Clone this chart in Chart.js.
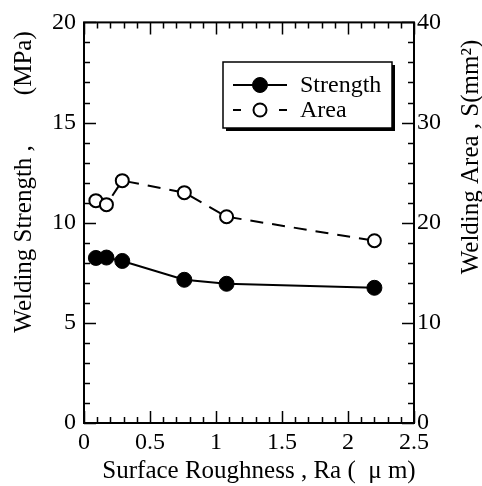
<!DOCTYPE html>
<html>
<head>
<meta charset="utf-8">
<script src="https://cdn.jsdelivr.net/npm/chart.js@4"></script>
<style>
  html, body { margin: 0; padding: 0; background: #fff; }
  #wrap { width: 482px; height: 486px; }
</style>
</head>
<body>
<div id="wrap"><canvas id="chart" width="482" height="486"></canvas></div>
<script>
// values
const roughness = [0.09, 0.17, 0.29, 0.76, 1.08, 2.2];
const strength = [8.24, 8.26, 8.09, 7.15, 6.95, 6.75];
const area = [22.2, 21.8, 24.2, 23.0, 20.6, 18.2];

const xTicks = [0, 0.5, 1, 1.5, 2, 2.5];
const yTicks = [0, 5, 10, 15, 20];
const y2Ticks = [0, 10, 20, 30, 40];

const FONT = "'Liberation Serif', 'Times New Roman', serif";

const toPoints = (xs, ys) => xs.map((x, i) => ({ x, y: ys[i] }));

// inward tick marks + box frame
const framePlugin = {
  id: "frame",
  beforeDatasetsDraw(chart) {
    const { ctx, chartArea: a, scales } = chart;
    ctx.save();
    ctx.strokeStyle = "#000";
    ctx.lineWidth = 1.5;
    ctx.beginPath();
    for (let i = 0; i <= 25; i++) {
      const px = Math.round(scales.x.getPixelForValue(i / 10)) + 0.5;
      const len = i % 5 === 0 ? 12 : 6;
      ctx.moveTo(px, a.bottom); ctx.lineTo(px, a.bottom - len);
      ctx.moveTo(px, a.top); ctx.lineTo(px, a.top + len);
    }
    for (let v = 0; v <= 20; v++) {
      const py = Math.round(scales.y.getPixelForValue(v)) + 0.5;
      const len = v % 5 === 0 ? 12 : 6;
      ctx.moveTo(a.left, py); ctx.lineTo(a.left + len, py);
    }
    for (let v = 0; v <= 40; v += 2) {
      const py = Math.round(scales.y2.getPixelForValue(v)) + 0.5;
      const len = v % 10 === 0 ? 12 : 6;
      ctx.moveTo(a.right, py); ctx.lineTo(a.right - len, py);
    }
    ctx.stroke();
    ctx.lineWidth = 2;
    ctx.strokeRect(a.left, a.top, a.width, a.height);
    ctx.restore();
  },
  afterDraw(chart) {
    const { ctx } = chart;
    ctx.save();
    ctx.fillStyle = "#000";
    ctx.font = "25px " + FONT;
    ctx.textAlign = "center";
    ctx.textBaseline = "middle";
    // x title
    ctx.fillText("Surface Roughness , Ra (  \u03bc m)", 259, 471);
    // left title
    ctx.save();
    ctx.translate(24, 182);
    ctx.rotate(-Math.PI / 2);
    ctx.fillText("Welding Strength ,        (MPa)", 0, 0);
    ctx.restore();
    // right title
    ctx.save();
    ctx.translate(471, 157);
    ctx.rotate(-Math.PI / 2);
    ctx.fillText("Welding Area , S(mm\u00b2)", 0, 0);
    ctx.restore();

    // legend
    ctx.font = "24px " + FONT;
    const lx = 223, ly = 62, lw = 169, lh = 66;
    ctx.fillRect(lx + 3, ly + 3, lw, lh);
    ctx.fillStyle = "#fff";
    ctx.fillRect(lx, ly, lw, lh);
    ctx.strokeStyle = "#000";
    ctx.lineWidth = 1.5;
    ctx.strokeRect(lx, ly, lw, lh);

    const ds = chart.data.datasets;
    const rows = [85, 110];
    ds.forEach((d, i) => {
      const y = rows[i];
      ctx.lineWidth = 2;
      ctx.strokeStyle = d.borderColor;
      ctx.beginPath();
      if (d.borderDash) {
        ctx.moveTo(233, y); ctx.lineTo(241, y);
        ctx.moveTo(279, y); ctx.lineTo(287, y);
      } else {
        ctx.moveTo(233, y); ctx.lineTo(287, y);
      }
      ctx.stroke();
      ctx.beginPath();
      ctx.arc(260, y, d.pointRadius, 0, Math.PI * 2);
      ctx.fillStyle = d.pointBackgroundColor;
      ctx.fill();
      ctx.lineWidth = d.pointBorderWidth;
      ctx.stroke();
      ctx.fillStyle = "#000";
      ctx.textAlign = "left";
      ctx.fillText(d.label, 300, y + 1);
    });
    ctx.restore();
  }
};

const tickFont = { family: FONT, size: 24 };

new Chart(document.getElementById("chart"), {
  type: "scatter",
  data: {
    datasets: [
      {
        label: "Strength",
        data: toPoints(roughness, strength),
        yAxisID: "y",
        showLine: true,
        borderColor: "#000",
        borderWidth: 2,
        pointRadius: 7.5,
        pointBackgroundColor: "#000",
        pointBorderColor: "#000",
        pointBorderWidth: 1,
      },
      {
        label: "Area",
        data: toPoints(roughness, area),
        yAxisID: "y2",
        showLine: true,
        borderColor: "#000",
        borderWidth: 2,
        borderDash: [13, 9],
        pointRadius: 6.5,
        pointBackgroundColor: "#fff",
        pointBorderColor: "#000",
        pointBorderWidth: 2,
      },
    ],
  },
  options: {
    responsive: false,
    animation: false,
    layout: { padding: { top: 20, left: 0, right: 0, bottom: 0 } },
    plugins: { legend: { display: false }, tooltip: { enabled: false } },
    scales: {
      x: {
        type: "linear",
        min: 0,
        max: 2.5,
        grid: { display: false, drawTicks: false },
        border: { display: false },
        afterBuildTicks: (s) => { s.ticks = xTicks.map((v) => ({ value: v })); },
        afterFit: (s) => { s.height = 63; },
        ticks: { color: "#000", font: tickFont, padding: 5, maxRotation: 0, callback: (v) => String(v) },
      },
      y: {
        position: "left",
        min: 0,
        max: 20,
        grid: { display: false, drawTicks: false },
        border: { display: false },
        afterBuildTicks: (s) => { s.ticks = yTicks.map((v) => ({ value: v })); },
        afterFit: (s) => { s.width = 84; },
        ticks: { color: "#000", font: tickFont, padding: 8 },
      },
      y2: {
        position: "right",
        min: 0,
        max: 40,
        grid: { display: false, drawTicks: false },
        border: { display: false },
        afterBuildTicks: (s) => { s.ticks = y2Ticks.map((v) => ({ value: v })); },
        afterFit: (s) => { s.width = 68; },
        ticks: { color: "#000", font: tickFont, padding: 3 },
      },
    },
  },
  plugins: [framePlugin],
});
</script>
</body>
</html>
